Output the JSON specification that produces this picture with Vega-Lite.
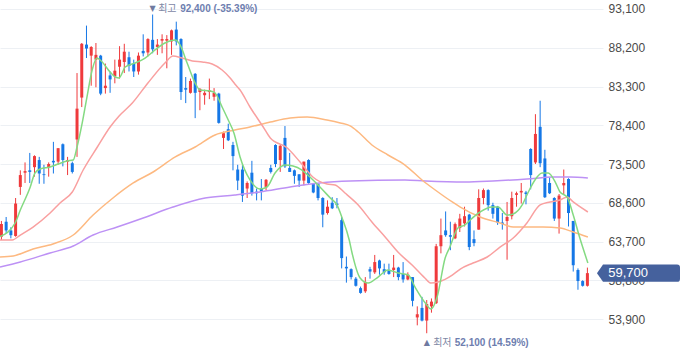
{
  "$schema": "https://vega.github.io/schema/vega-lite/v6.json",
  "width": 603,
  "height": 358,
  "autosize": "none",
  "padding": {"left": 0, "top": 0, "right": 77, "bottom": 0},
  "background": "white",
  "config": {
    "view": {"stroke": null},
    "numberFormat": ",",
    "axisY": {"grid": true, "gridColor": "#edf0f4", "gridWidth": 1, "ticks": false, "domain": false, "labelPadding": 5, "labelFontSize": 12, "labelColor": "#4a4a4a", "labelFont": "Liberation Sans", "labelAlign": "left", "labelBaseline": "middle"}
  },
  "datasets": {
    "candles": [
      {"i":0,"o":64300,"h":66300,"l":63900,"c":65900},
      {"i":1,"o":66200,"h":66800,"l":64700,"c":65100},
      {"i":2,"o":65100,"h":65500,"l":64100,"c":64500},
      {"i":3,"o":64400,"h":69200,"l":64300,"c":68500},
      {"i":4,"o":70600,"h":72700,"l":69600,"c":72100},
      {"i":5,"o":72400,"h":73700,"l":71100,"c":72600},
      {"i":6,"o":72700,"h":74900,"l":71100,"c":72500},
      {"i":7,"o":73100,"h":74600,"l":71900,"c":74500},
      {"i":8,"o":74000,"h":74400,"l":71000,"c":72300},
      {"i":9,"o":72200,"h":73400,"l":71000,"c":72100},
      {"i":10,"o":73100,"h":73700,"l":71900,"c":73500},
      {"i":11,"o":73900,"h":76300,"l":72300,"c":73700},
      {"i":12,"o":73800,"h":75500,"l":73400,"c":75500},
      {"i":13,"o":76000,"h":76100,"l":73200,"c":74000},
      {"i":14,"o":73800,"h":74400,"l":72100,"c":74000},
      {"i":15,"o":73600,"h":73800,"l":72300,"c":72500},
      {"i":16,"o":76600,"h":85000,"l":74400,"c":80500},
      {"i":17,"o":81900,"h":88800,"l":80700,"c":88700},
      {"i":18,"o":88600,"h":91000,"l":86900,"c":88100},
      {"i":19,"o":87200,"h":88400,"l":83400,"c":88300},
      {"i":20,"o":86700,"h":88800,"l":83200,"c":87300},
      {"i":21,"o":87200,"h":87300,"l":82200,"c":82400},
      {"i":22,"o":83100,"h":86200,"l":82400,"c":83400},
      {"i":23,"o":84700,"h":85200,"l":82500,"c":84200},
      {"i":24,"o":84600,"h":86700,"l":83700,"c":85300},
      {"i":25,"o":85800,"h":88400,"l":84300,"c":86700},
      {"i":26,"o":86400,"h":88700,"l":85000,"c":87700},
      {"i":27,"o":87000,"h":87700,"l":85200,"c":85900},
      {"i":28,"o":86200,"h":86700,"l":84500,"c":85200},
      {"i":29,"o":85200,"h":87600,"l":84800,"c":87200},
      {"i":30,"o":87800,"h":89900,"l":87100,"c":87500},
      {"i":31,"o":87600,"h":89400,"l":87100,"c":89300},
      {"i":32,"o":89200,"h":92400,"l":87500,"c":88000},
      {"i":33,"o":88300,"h":89300,"l":87300,"c":88600},
      {"i":34,"o":89100,"h":89900,"l":87500,"c":89300},
      {"i":35,"o":89100,"h":89800,"l":85600,"c":89300},
      {"i":36,"o":89000,"h":90500,"l":87300,"c":90400},
      {"i":37,"o":90500,"h":91500,"l":88500,"c":89000},
      {"i":38,"o":89300,"h":89400,"l":81600,"c":82600},
      {"i":39,"o":83100,"h":84500,"l":81200,"c":82900},
      {"i":40,"o":82500,"h":84300,"l":82400,"c":84000},
      {"i":41,"o":84900,"h":85000,"l":79300,"c":82500},
      {"i":42,"o":82600,"h":83100,"l":80300,"c":83000},
      {"i":43,"o":82200,"h":82900,"l":81000,"c":82500},
      {"i":44,"o":82600,"h":84300,"l":81700,"c":82800},
      {"i":45,"o":82000,"h":83100,"l":81500,"c":82500},
      {"i":46,"o":82400,"h":82500,"l":78600,"c":78700},
      {"i":47,"o":76800,"h":77600,"l":75400,"c":77400},
      {"i":48,"o":77900,"h":78600,"l":76400,"c":76500},
      {"i":49,"o":75900,"h":76300,"l":72700,"c":74500},
      {"i":50,"o":72800,"h":73400,"l":70200,"c":71400},
      {"i":51,"o":72800,"h":73400,"l":68700,"c":69500},
      {"i":52,"o":70400,"h":71300,"l":69200,"c":71100},
      {"i":53,"o":72400,"h":73900,"l":69500,"c":69800},
      {"i":54,"o":70000,"h":70400,"l":68900,"c":69800},
      {"i":55,"o":70400,"h":71600,"l":68900,"c":70000},
      {"i":56,"o":70600,"h":71600,"l":70200,"c":71500},
      {"i":57,"o":73000,"h":73400,"l":72300,"c":72500},
      {"i":58,"o":75900,"h":76000,"l":73100,"c":73500},
      {"i":59,"o":74000,"h":75900,"l":72500,"c":75800},
      {"i":60,"o":76800,"h":78300,"l":73000,"c":73200},
      {"i":61,"o":73000,"h":74900,"l":72500,"c":72500},
      {"i":62,"o":72700,"h":72800,"l":71000,"c":72000},
      {"i":63,"o":72200,"h":72200,"l":70600,"c":71400},
      {"i":64,"o":71400,"h":73800,"l":70800,"c":73800},
      {"i":65,"o":74000,"h":74100,"l":71000,"c":71100},
      {"i":66,"o":71000,"h":71100,"l":69800,"c":69900},
      {"i":67,"o":71000,"h":71100,"l":68900,"c":69200},
      {"i":68,"o":69200,"h":69300,"l":65500,"c":67100},
      {"i":69,"o":67300,"h":68900,"l":67100,"c":68100},
      {"i":70,"o":68600,"h":69300,"l":67800,"c":67900},
      {"i":71,"o":68500,"h":69200,"l":67900,"c":68300},
      {"i":72,"o":66400,"h":66800,"l":60300,"c":61600},
      {"i":73,"o":60500,"h":61800,"l":58500,"c":60300},
      {"i":74,"o":60200,"h":60300,"l":58900,"c":59200},
      {"i":75,"o":59000,"h":59200,"l":58000,"c":58100},
      {"i":76,"o":57800,"h":58000,"l":57100,"c":57200},
      {"i":77,"o":57400,"h":59200,"l":57200,"c":58600},
      {"i":78,"o":60200,"h":60500,"l":59000,"c":59900},
      {"i":79,"o":59800,"h":62000,"l":59600,"c":61100},
      {"i":80,"o":61300,"h":61400,"l":59500,"c":60300},
      {"i":81,"o":60200,"h":60900,"l":59500,"c":59800},
      {"i":82,"o":60100,"h":60900,"l":59500,"c":59600},
      {"i":83,"o":60100,"h":62000,"l":59200,"c":60400},
      {"i":84,"o":60400,"h":60500,"l":58800,"c":59200},
      {"i":85,"o":59600,"h":61100,"l":58500,"c":58900},
      {"i":86,"o":58900,"h":59800,"l":58800,"c":59500},
      {"i":87,"o":59200,"h":59200,"l":55500,"c":56200},
      {"i":88,"o":54100,"h":55500,"l":53100,"c":54500},
      {"i":89,"o":55300,"h":56700,"l":53600,"c":53700},
      {"i":90,"o":53700,"h":56300,"l":52100,"c":55800},
      {"i":91,"o":55500,"h":56500,"l":54700,"c":56100},
      {"i":92,"o":55900,"h":63400,"l":55800,"c":63100},
      {"i":93,"o":63100,"h":66600,"l":62200,"c":64500},
      {"i":94,"o":65100,"h":67500,"l":64300,"c":64500},
      {"i":95,"o":64500,"h":66200,"l":62600,"c":64300},
      {"i":96,"o":64100,"h":66100,"l":64000,"c":65900},
      {"i":97,"o":65400,"h":67200,"l":64900,"c":66600},
      {"i":98,"o":66000,"h":68100,"l":65600,"c":66900},
      {"i":99,"o":67100,"h":67200,"l":62600,"c":63000},
      {"i":100,"o":64000,"h":65100,"l":63100,"c":63500},
      {"i":101,"o":65200,"h":70300,"l":65200,"c":69200},
      {"i":102,"o":69200,"h":70400,"l":68400,"c":70200},
      {"i":103,"o":70200,"h":70300,"l":67600,"c":68300},
      {"i":104,"o":68300,"h":68600,"l":66600,"c":67200},
      {"i":105,"o":68100,"h":68200,"l":65800,"c":66100},
      {"i":106,"o":66100,"h":67300,"l":65200,"c":65900},
      {"i":107,"o":66300,"h":68700,"l":61400,"c":66800},
      {"i":108,"o":66900,"h":70000,"l":66500,"c":69200},
      {"i":109,"o":69600,"h":70000,"l":68100,"c":69800},
      {"i":110,"o":69900,"h":71100,"l":68500,"c":70100},
      {"i":111,"o":69900,"h":70100,"l":68400,"c":69700},
      {"i":112,"o":75400,"h":75500,"l":70300,"c":72100},
      {"i":113,"o":73700,"h":79800,"l":73500,"c":77300},
      {"i":114,"o":78200,"h":81500,"l":73100,"c":73600},
      {"i":115,"o":74200,"h":75300,"l":69200,"c":69300},
      {"i":116,"o":71100,"h":71800,"l":69700,"c":69800},
      {"i":117,"o":69200,"h":69300,"l":66300,"c":66600},
      {"i":118,"o":66600,"h":69700,"l":64700,"c":69500},
      {"i":119,"o":70800,"h":72800,"l":69600,"c":71100},
      {"i":120,"o":71600,"h":71700,"l":65600,"c":67300},
      {"i":121,"o":66300,"h":66300,"l":59900,"c":60700},
      {"i":122,"o":60100,"h":60300,"l":57600,"c":58700},
      {"i":123,"o":58700,"h":58800,"l":58000,"c":58100},
      {"i":124,"o":58100,"h":60400,"l":58000,"c":59700}
    ],
    "ma": [
      {"s":"MA120","i":-0.3,"v":60480},{"s":"MA120","i":4.0,"v":61110},{"s":"MA120","i":10.3,"v":62250},{"s":"MA120","i":15.2,"v":63130},{"s":"MA120","i":19.4,"v":64520},{"s":"MA120","i":24.5,"v":65530},{"s":"MA120","i":30.0,"v":66670},{"s":"MA120","i":36.3,"v":68060},{"s":"MA120","i":43.1,"v":69200},{"s":"MA120","i":49.4,"v":69580},{"s":"MA120","i":54.7,"v":69960},{"s":"MA120","i":61.1,"v":70590},{"s":"MA120","i":67.4,"v":71100},{"s":"MA120","i":73.8,"v":71350},{"s":"MA120","i":85.4,"v":71480},{"s":"MA120","i":89.7,"v":71350},{"s":"MA120","i":98.1,"v":71220},{"s":"MA120","i":104.0,"v":71350},{"s":"MA120","i":111.2,"v":71600},{"s":"MA120","i":116.7,"v":71860},{"s":"MA120","i":120.3,"v":71860},{"s":"MA120","i":124.1,"v":71730},
      {"s":"MA60","i":-0.3,"v":61740},{"s":"MA60","i":2.5,"v":61870},{"s":"MA60","i":6.7,"v":62750},{"s":"MA60","i":10.9,"v":63390},{"s":"MA60","i":15.2,"v":64520},{"s":"MA60","i":19.4,"v":67050},{"s":"MA60","i":23.6,"v":69200},{"s":"MA60","i":27.9,"v":71100},{"s":"MA60","i":32.1,"v":72490},{"s":"MA60","i":36.8,"v":74390},{"s":"MA60","i":41.0,"v":75650},{"s":"MA60","i":45.2,"v":77170},{"s":"MA60","i":49.4,"v":77800},{"s":"MA60","i":52.6,"v":78180},{"s":"MA60","i":56.9,"v":78810},{"s":"MA60","i":61.1,"v":79320},{"s":"MA60","i":64.7,"v":79440},{"s":"MA60","i":68.9,"v":79060},{"s":"MA60","i":71.7,"v":78690},{"s":"MA60","i":73.8,"v":78310},{"s":"MA60","i":75.5,"v":77550},{"s":"MA60","i":78.4,"v":75900},{"s":"MA60","i":81.8,"v":74640},{"s":"MA60","i":85.4,"v":73370},{"s":"MA60","i":89.0,"v":71480},{"s":"MA60","i":91.8,"v":70210},{"s":"MA60","i":95.4,"v":68700},{"s":"MA60","i":97.1,"v":68060},{"s":"MA60","i":101.3,"v":66800},{"s":"MA60","i":105.5,"v":66040},{"s":"MA60","i":108.3,"v":65530},{"s":"MA60","i":111.2,"v":65530},{"s":"MA60","i":114.6,"v":65530},{"s":"MA60","i":118.2,"v":65410},{"s":"MA60","i":121.0,"v":64900},{"s":"MA60","i":124.1,"v":64270},
      {"s":"MA20","i":-0.3,"v":63890},{"s":"MA20","i":2.3,"v":63890},{"s":"MA20","i":4.0,"v":64520},{"s":"MA20","i":6.7,"v":65530},{"s":"MA20","i":10.3,"v":67300},{"s":"MA20","i":12.4,"v":68570},{"s":"MA20","i":15.0,"v":69960},{"s":"MA20","i":17.3,"v":72740},{"s":"MA20","i":20.3,"v":75650},{"s":"MA20","i":23.0,"v":78180},{"s":"MA20","i":24.9,"v":79570},{"s":"MA20","i":27.7,"v":81210},{"s":"MA20","i":31.0,"v":83740},{"s":"MA20","i":34.6,"v":86270},{"s":"MA20","i":36.3,"v":87160},{"s":"MA20","i":38.2,"v":86900},{"s":"MA20","i":40.4,"v":86530},{"s":"MA20","i":42.5,"v":86400},{"s":"MA20","i":44.6,"v":86150},{"s":"MA20","i":46.7,"v":85390},{"s":"MA20","i":48.4,"v":84380},{"s":"MA20","i":49.4,"v":83620},{"s":"MA20","i":50.5,"v":82860},{"s":"MA20","i":52.6,"v":80710},{"s":"MA20","i":55.4,"v":78180},{"s":"MA20","i":56.9,"v":76790},{"s":"MA20","i":60.5,"v":75520},{"s":"MA20","i":63.2,"v":73750},{"s":"MA20","i":65.9,"v":71860},{"s":"MA20","i":68.9,"v":70970},{"s":"MA20","i":70.6,"v":70850},{"s":"MA20","i":72.7,"v":69830},{"s":"MA20","i":75.5,"v":68320},{"s":"MA20","i":78.4,"v":66170},{"s":"MA20","i":81.2,"v":64270},{"s":"MA20","i":83.9,"v":62370},{"s":"MA20","i":86.9,"v":60730},{"s":"MA20","i":89.6,"v":59090},{"s":"MA20","i":90.9,"v":58450},{"s":"MA20","i":92.4,"v":58580},{"s":"MA20","i":95.4,"v":59460},{"s":"MA20","i":97.1,"v":60220},{"s":"MA20","i":99.8,"v":60980},{"s":"MA20","i":102.8,"v":61740},{"s":"MA20","i":105.5,"v":62990},{"s":"MA20","i":108.3,"v":64140},{"s":"MA20","i":111.2,"v":66040},{"s":"MA20","i":114.0,"v":68320},{"s":"MA20","i":116.1,"v":68700},{"s":"MA20","i":118.2,"v":68950},{"s":"MA20","i":119.7,"v":69330},{"s":"MA20","i":121.0,"v":68700},{"s":"MA20","i":124.1,"v":67430},
      {"s":"MA5","i":-0.3,"v":64310},{"s":"MA5","i":2.9,"v":66040},{"s":"MA5","i":4.0,"v":67680},{"s":"MA5","i":6.1,"v":70590},{"s":"MA5","i":7.1,"v":72360},{"s":"MA5","i":8.2,"v":72870},{"s":"MA5","i":10.3,"v":73120},{"s":"MA5","i":12.0,"v":73500},{"s":"MA5","i":13.9,"v":73880},{"s":"MA5","i":15.2,"v":74010},{"s":"MA5","i":16.0,"v":75650},{"s":"MA5","i":17.1,"v":78690},{"s":"MA5","i":18.1,"v":81970},{"s":"MA5","i":19.2,"v":85390},{"s":"MA5","i":20.2,"v":86900},{"s":"MA5","i":20.9,"v":86650},{"s":"MA5","i":23.0,"v":85130},{"s":"MA5","i":24.1,"v":84500},{"s":"MA5","i":24.9,"v":84380},{"s":"MA5","i":26.2,"v":85770},{"s":"MA5","i":28.3,"v":86270},{"s":"MA5","i":30.4,"v":86900},{"s":"MA5","i":32.5,"v":87920},{"s":"MA5","i":34.6,"v":88800},{"s":"MA5","i":36.8,"v":89180},{"s":"MA5","i":37.8,"v":88550},{"s":"MA5","i":39.3,"v":86270},{"s":"MA5","i":41.0,"v":83740},{"s":"MA5","i":42.0,"v":82860},{"s":"MA5","i":44.2,"v":82730},{"s":"MA5","i":45.2,"v":82480},{"s":"MA5","i":46.7,"v":80710},{"s":"MA5","i":48.0,"v":79060},{"s":"MA5","i":49.2,"v":77420},{"s":"MA5","i":50.5,"v":74390},{"s":"MA5","i":52.6,"v":71480},{"s":"MA5","i":54.7,"v":70340},{"s":"MA5","i":56.2,"v":70590},{"s":"MA5","i":57.9,"v":72360},{"s":"MA5","i":60.0,"v":73370},{"s":"MA5","i":61.7,"v":73250},{"s":"MA5","i":63.6,"v":72740},{"s":"MA5","i":65.3,"v":71860},{"s":"MA5","i":67.4,"v":70590},{"s":"MA5","i":69.6,"v":69200},{"s":"MA5","i":71.0,"v":68320},{"s":"MA5","i":72.1,"v":66670},{"s":"MA5","i":73.6,"v":63890},{"s":"MA5","i":74.2,"v":62250},{"s":"MA5","i":75.9,"v":59090},{"s":"MA5","i":77.6,"v":58450},{"s":"MA5","i":79.7,"v":59210},{"s":"MA5","i":81.8,"v":60100},{"s":"MA5","i":83.9,"v":59720},{"s":"MA5","i":86.1,"v":59460},{"s":"MA5","i":87.5,"v":57950},{"s":"MA5","i":89.7,"v":55920},{"s":"MA5","i":90.9,"v":55170},{"s":"MA5","i":92.2,"v":56680},{"s":"MA5","i":93.9,"v":61610},{"s":"MA5","i":94.9,"v":63010},{"s":"MA5","i":96.6,"v":65410},{"s":"MA5","i":98.1,"v":65790},{"s":"MA5","i":99.2,"v":66420},{"s":"MA5","i":101.3,"v":67430},{"s":"MA5","i":103.8,"v":68060},{"s":"MA5","i":105.1,"v":68060},{"s":"MA5","i":107.0,"v":67050},{"s":"MA5","i":108.3,"v":67180},{"s":"MA5","i":110.2,"v":68320},{"s":"MA5","i":111.4,"v":69830},{"s":"MA5","i":112.9,"v":71480},{"s":"MA5","i":114.4,"v":72360},{"s":"MA5","i":115.7,"v":72360},{"s":"MA5","i":117.2,"v":71220},{"s":"MA5","i":118.2,"v":69960},{"s":"MA5","i":119.7,"v":69330},{"s":"MA5","i":121.0,"v":67050},{"s":"MA5","i":122.4,"v":64140},{"s":"MA5","i":124.1,"v":60980}
    ],
    "hi": [{"i":32,"p":92400,"m":"▼","a":"최고","b":"92,400 (-35.39%)"}],
    "lo": [{"i":90,"p":52100,"m":"▲","a":"최저","b":"52,100 (14.59%)"}],
    "last": [{"p":59700,"t":"59,700"}]
  },
  "layer": [
    {
      "data": {"name": "candles"},
      "mark": {"type": "rule", "strokeWidth": 1},
      "encoding": {
        "x": {"field": "i", "type": "quantitative", "scale": {"domain": [-0.3, 127.3], "nice": false, "zero": false, "padding": 0}, "axis": null},
        "y": {"field": "l", "type": "quantitative", "scale": {"domain": [48969, 94238], "nice": false, "zero": false, "padding": 0},
              "axis": {"title": null, "orient": "right", "labelExpr": "format(datum.value, ',')", "values": [53900,58800,63700,68600,73500,78400,83300,88200,93100]}},
        "y2": {"field": "h"},
        "color": {"condition": {"test": "datum.c >= datum.o", "value": "#ef3a3c"}, "value": "#1577e6"}
      }
    },
    {
      "data": {"name": "candles"},
      "mark": {"type": "bar", "size": 3},
      "encoding": {
        "x": {"field": "i", "type": "quantitative", "axis": null},
        "y": {"field": "o", "type": "quantitative", "axis": {"title": null, "orient": "right", "labelExpr": "format(datum.value, ',')", "values": [53900,58800,63700,68600,73500,78400,83300,88200,93100]}},
        "y2": {"field": "c"},
        "color": {"condition": {"test": "datum.c >= datum.o", "value": "#ef3a3c"}, "value": "#1577e6"}
      }
    },
    {
      "data": {"name": "ma"},
      "mark": {"type": "line", "strokeWidth": 1.5, "interpolate": "monotone"},
      "encoding": {
        "x": {"field": "i", "type": "quantitative", "axis": null},
        "y": {"field": "v", "type": "quantitative", "axis": {"title": null, "orient": "right", "labelExpr": "format(datum.value, ',')", "values": [53900,58800,63700,68600,73500,78400,83300,88200,93100]}},
        "color": {"field": "s", "type": "nominal", "legend": null,
                  "scale": {"domain": ["MA5", "MA20", "MA60", "MA120"], "range": ["#84da82", "#f9a0a0", "#fdb981", "#bd91f5"]}},
        "detail": {"field": "s"}
      }
    },
    {
      "data": {"name": "hi"},
      "mark": {"type": "text", "align": "center", "baseline": "middle", "dy": -6, "font": "DejaVu Sans", "fontSize": 8, "color": "#6f7aa0"},
      "encoding": {
        "x": {"field": "i", "type": "quantitative", "axis": null},
        "y": {"field": "p", "type": "quantitative", "axis": {"title": null, "orient": "right", "labelExpr": "format(datum.value, ',')", "values": [53900,58800,63700,68600,73500,78400,83300,88200,93100]}},
        "text": {"field": "m"}
      }
    },
    {
      "data": {"name": "hi"},
      "mark": {"type": "text", "align": "left", "baseline": "middle", "dx": 5.5, "dy": -6, "font": "Noto Sans CJK KR", "fontSize": 10, "color": "#7d87a5"},
      "encoding": {
        "x": {"field": "i", "type": "quantitative", "axis": null},
        "y": {"field": "p", "type": "quantitative", "axis": {"title": null, "orient": "right", "labelExpr": "format(datum.value, ',')", "values": [53900,58800,63700,68600,73500,78400,83300,88200,93100]}},
        "text": {"field": "a"}
      }
    },
    {
      "data": {"name": "hi"},
      "mark": {"type": "text", "align": "left", "baseline": "middle", "dx": 27.5, "dy": -6, "font": "Liberation Sans", "fontSize": 10, "fontWeight": "bold", "color": "#6e7eaf"},
      "encoding": {
        "x": {"field": "i", "type": "quantitative", "axis": null},
        "y": {"field": "p", "type": "quantitative", "axis": {"title": null, "orient": "right", "labelExpr": "format(datum.value, ',')", "values": [53900,58800,63700,68600,73500,78400,83300,88200,93100]}},
        "text": {"field": "b"}
      }
    },
    {
      "data": {"name": "lo"},
      "mark": {"type": "text", "align": "center", "baseline": "middle", "dy": 10, "font": "DejaVu Sans", "fontSize": 8, "color": "#6f7aa0"},
      "encoding": {
        "x": {"field": "i", "type": "quantitative", "axis": null},
        "y": {"field": "p", "type": "quantitative", "axis": {"title": null, "orient": "right", "labelExpr": "format(datum.value, ',')", "values": [53900,58800,63700,68600,73500,78400,83300,88200,93100]}},
        "text": {"field": "m"}
      }
    },
    {
      "data": {"name": "lo"},
      "mark": {"type": "text", "align": "left", "baseline": "middle", "dx": 6.4, "dy": 10, "font": "Noto Sans CJK KR", "fontSize": 10, "color": "#7d87a5"},
      "encoding": {
        "x": {"field": "i", "type": "quantitative", "axis": null},
        "y": {"field": "p", "type": "quantitative", "axis": {"title": null, "orient": "right", "labelExpr": "format(datum.value, ',')", "values": [53900,58800,63700,68600,73500,78400,83300,88200,93100]}},
        "text": {"field": "a"}
      }
    },
    {
      "data": {"name": "lo"},
      "mark": {"type": "text", "align": "left", "baseline": "middle", "dx": 28, "dy": 10, "font": "Liberation Sans", "fontSize": 10, "fontWeight": "bold", "color": "#6e7eaf"},
      "encoding": {
        "x": {"field": "i", "type": "quantitative", "axis": null},
        "y": {"field": "p", "type": "quantitative", "axis": {"title": null, "orient": "right", "labelExpr": "format(datum.value, ',')", "values": [53900,58800,63700,68600,73500,78400,83300,88200,93100]}},
        "text": {"field": "b"}
      }
    },
    {
      "data": {"name": "last"},
      "mark": {"type": "point", "filled": true, "opacity": 1, "strokeWidth": 0, "color": "#45619d", "size": 6889,
               "shape": "M-1,0 L-0.855,-0.21 L0.93,-0.21 Q1,-0.21 1,-0.14 L1,0.14 Q1,0.21 0.93,0.21 L-0.855,0.21 Z", "clip": false},
      "encoding": {
        "x": {"datum": 134.81, "type": "quantitative", "axis": null},
        "y": {"field": "p", "type": "quantitative", "axis": {"title": null, "orient": "right", "labelExpr": "format(datum.value, ',')", "values": [53900,58800,63700,68600,73500,78400,83300,88200,93100]}}
      }
    },
    {
      "data": {"name": "last"},
      "mark": {"type": "text", "align": "left", "baseline": "middle", "font": "Liberation Sans", "fontSize": 13, "color": "white", "clip": false},
      "encoding": {
        "x": {"datum": 128.4, "type": "quantitative", "axis": null},
        "y": {"field": "p", "type": "quantitative", "axis": {"title": null, "orient": "right", "labelExpr": "format(datum.value, ',')", "values": [53900,58800,63700,68600,73500,78400,83300,88200,93100]}},
        "text": {"field": "t"}
      }
    }
  ]
}
